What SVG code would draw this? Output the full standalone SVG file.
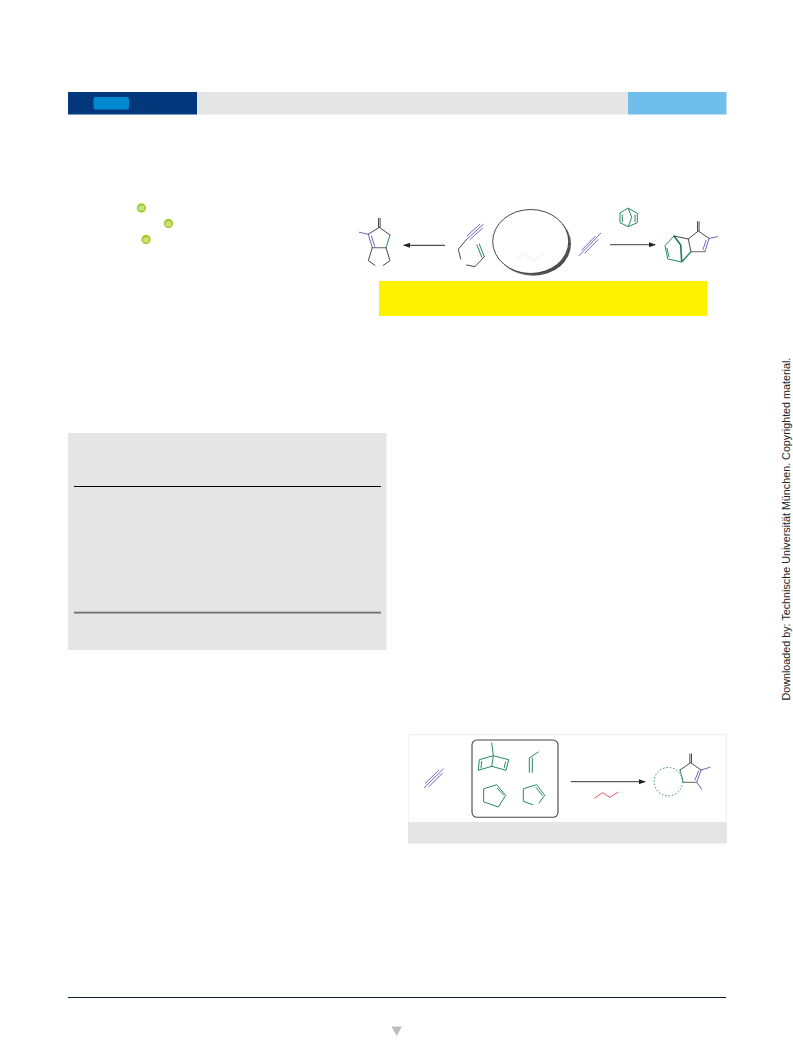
<svg xmlns="http://www.w3.org/2000/svg" width="793" height="1059" viewBox="0 0 793 1059">
<style>
.k{fill:none;stroke:#333;stroke-width:.9;stroke-linecap:round;stroke-linejoin:round}
.g{fill:none;stroke:#2a8a60;stroke-width:1;stroke-linecap:round;stroke-linejoin:round}
.b{fill:none;stroke:#4f4fb0;stroke-width:.85;stroke-linecap:round}
.o{fill:#a6ce39}
.i{font-family:"Liberation Sans",Arial,sans-serif;font-size:5.500px;fill:#e6f2c0;text-anchor:middle;font-weight:bold}
.bar{fill:#e5e5e5}
</style>
<defs>
<marker id="ah" markerWidth="7" markerHeight="5" refX="6" refY="2.5" orient="auto" markerUnits="userSpaceOnUse"><path d="M0 0L7 2.5L0 5z" fill="#222"/></marker>
<radialGradient id="shade" cx=".42" cy=".42" r=".62"><stop offset=".82" stop-color="#888"/><stop offset="1" stop-color="#333"/></radialGradient>
</defs>
<rect width="793" height="1059" fill="#fff"/>
<g id="header">
<rect class="bar" x="197" y="92" width="431" height="22.500"/>
<rect x="68" y="92" width="129" height="22.500" fill="#03387c"/>
<rect x="93.500" y="97" width="35.500" height="12.500" rx="2" fill="#0089d0"/>
<rect x="628" y="92" width="98.500" height="22.500" fill="#70bfeb"/>
</g>
<g id="orcid-badges">
<circle class="o" cx="141.500" cy="208" r="4.700"/><text class="i" x="141.500" y="210">iD</text>
<circle class="o" cx="168.500" cy="223.500" r="4.700"/><text class="i" x="168.500" y="225.500">iD</text>
<circle class="o" cx="146" cy="239.500" r="4.700"/><text class="i" x="146" y="241.500">iD</text>
</g>
<g id="graphical-abstract">
<rect id="highlight" x="379" y="281" width="328.500" height="35" fill="#fff200"/>
<g id="left-product">
<path class="k" d="M378.500 218.300V227M380.100 218.300V227M379.300 227.300L390 235"/>
<path class="g" d="M390 235L386 247.700"/>
<path class="k" d="M379.300 227.300L368.300 234.300"/>
<path class="b" d="M368.300 234.300L359.300 232.300M368.300 234.300L372.300 247.700M371.300 236L374.800 246.300"/>
<path d="M372.300 247.700H386" fill="none" stroke="#777" stroke-width="1.200"/>
<path class="k" d="M372.300 247.700L368.300 260.700L375 265.300M386 247.700L390 260.700L383.300 265.300"/>
</g>
<g id="enyne">
<path class="b" d="M466 240L483.300 224.300M470 239.500L482.500 228.200M467.200 235.700L479.700 224.400"/>
<path class="k" d="M466 240L458.300 249.300L460.700 259M466.700 265L475 266.700L484.300 256.700"/>
<path class="g" d="M484.300 256.700L479.300 244M481.800 257.300L477 245"/>
</g>
<g id="catalyst">
<ellipse cx="533" cy="243.800" rx="38" ry="32" fill="url(#shade)"/>
<ellipse cx="530.700" cy="241.500" rx="38" ry="32" fill="#fff" stroke="#333" stroke-width=".9"/>
<path d="M516.700 260L524.300 253.300L533.300 260.700L543.300 254" fill="none" stroke="#f8d8dc" stroke-width=".7"/>
</g>
<g id="alkyne-top">
<path class="b" d="M579 255.700L600.700 233.300M585 253L598.200 239.500M581.800 250L595 236.500"/>
</g>
<g id="norbornadiene-top">
<path class="g" d="M628.300 208.300L637.300 213.300V222.700L628.300 226.700L620 222.700V213.300ZM635 215V221.700M622.300 215V221.700M628.300 208.300L631.700 217.300L628.300 226.700"/>
</g>
<g id="right-product">
<path class="g" d="M674 236L665 245.700L667.700 259L681.700 262M667 248.300L669 256.700"/>
<path d="M674 236L680.700 245L681.700 262" fill="none" stroke="#1f7a50" stroke-width="1.600"/>
<path d="M681.700 262L691 251.700" fill="none" stroke="#2a8a60" stroke-width="1.400"/>
<path class="k" d="M674 236L688.300 239L698.300 231L709 238.300M688.300 239L691 251.700M697.500 221.700V231M699.100 221.700V231"/>
<path d="M691 251.700H705" fill="none" stroke="#777" stroke-width="1.100"/>
<path class="b" d="M705 251.700L709 238.300L717.700 236.700M703 249.500L706 240.500"/>
</g>
</g>
<g id="table-panel">
<rect class="bar" x="68" y="433" width="318.500" height="217"/>
<path d="M74 486.500H381" stroke="#000" stroke-width="1" fill="none"/>
<path d="M74 612.600H381" stroke="#6e6e6e" stroke-width="1.800" fill="none"/>
</g>
<g id="scope-panel">
<rect x="408.800" y="734.700" width="317.500" height="88" fill="#fff" stroke="#eee" stroke-width="1"/>
<rect class="bar" x="408" y="822" width="319" height="21.500"/>
<rect id="alkene-box" x="472" y="740" width="86" height="77.300" rx="5" fill="none" stroke="#444" stroke-width="1.100"/>
<g id="alkyne-bottom"><path class="b" d="M424.300 787.700L443.300 769M429 786.500L442.300 773.400M425.500 783.200L438.800 770.100"/></g>
<g id="norbornadiene"><path class="g" d="M491.700 743L493.300 755.700L479.300 759.700L478.300 770.300L491.700 766.300L506 770.300L508.700 759.700L493.300 755.700L491.700 766.300M481.700 761.500L481 768M505.500 762L504.300 767.500"/></g>
<g id="alkene-chain"><path class="g" d="M538.300 752L529.300 758V772.300M532.300 758V772.300"/></g>
<g id="cyclopentene"><path class="g" d="M484 788.700L496.700 784.700L505.700 795.300L498.300 807L484 802ZM497.500 788.500L503.500 795"/></g>
<g id="cyclopentene-2"><path class="g" d="M532.700 804.700L523.300 801.300V788.700L536.700 784.700L544.700 795.300L539 803M536 787.500L542.300 795.300"/></g>
<g id="arrow-bottom"><path d="M570.700 781.700H645" fill="none" stroke="#333" stroke-width="1" marker-end="url(#ah)"/></g>
<g id="red-zigzag"><path d="M594.300 798.300L602.300 792.700L610 797.300L618.300 792" fill="none" stroke="#ee4455" stroke-width=".9"/></g>
<g id="scope-product">
<circle cx="668.300" cy="781.700" r="14.200" fill="none" stroke="#2a8a60" stroke-width="1" stroke-dasharray="1.500 1.900"/>
<path class="g" d="M680 770L683.300 782.300"/>
<path class="k" d="M680 770L690.700 762.700L701 770M689.900 754V762.500M691.500 754V762.500"/>
<path d="M683.300 782.300H696.700" fill="none" stroke="#666" stroke-width="1"/>
<path class="b" d="M696.700 782.300L701 770L710 767.300M695 780L698.500 771M696.700 782.300L701.700 789.300"/>
</g>
</g>
<g id="connectors">
<path d="M445 245.300H404" fill="none" stroke="#222" stroke-width="1" marker-end="url(#ah)"/>
<path d="M610 244.700H655" fill="none" stroke="#666" stroke-width="1.200" marker-end="url(#ah)"/>
</g>
<g id="footer">
<path d="M68 997H726" stroke="#0c1c38" stroke-width="1" fill="none" shape-rendering="crispEdges"/>
<path d="M391.500 1026.500H402L396.700 1036z" fill="#bdbdbd"/>
</g>
<text id="watermark" transform="translate(790 700.500) rotate(-90)" font-family="'Liberation Sans',Arial,sans-serif" font-size="10.750" fill="#222">Downloaded by: Technische Universität München. Copyrighted material.</text>
</svg>
